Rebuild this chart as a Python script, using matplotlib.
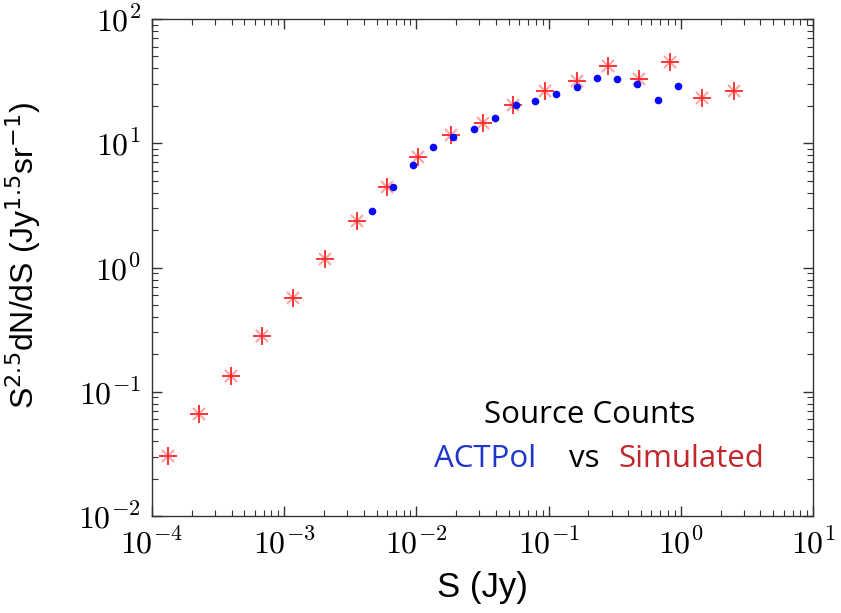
import numpy as np
import matplotlib
matplotlib.use("Agg")
import matplotlib.pyplot as plt
from matplotlib.ticker import LogLocator, FuncFormatter, NullFormatter

# Simulated source counts (flux in Jy, S^2.5 dN/dS in Jy^1.5 sr^-1)
sim_flux = [1.31e-4, 2.28e-4, 3.94e-4, 6.76e-4, 1.17e-3, 2.04e-3, 3.53e-3,
            5.96e-3, 1.03e-2, 1.815e-2, 3.17e-2, 5.41e-2, 9.4e-2, 0.163,
            0.279, 0.481, 0.828, 1.445, 2.53]
sim_counts = [0.0304, 0.0658, 0.1346, 0.282, 0.569, 1.18, 2.35,
              4.45, 7.7, 11.6, 14.5, 20.2, 26.4, 31.7,
              41.6, 33.1, 45.1, 23.0, 26.3]

# ACTPol measured source counts
act_flux = [4.63e-3, 6.62e-3, 9.5e-3, 1.328e-2, 1.9e-2, 2.74e-2, 3.95e-2,
            5.64e-2, 7.93e-2, 0.113, 0.163, 0.232, 0.331, 0.467, 0.667, 0.96]
act_counts = [2.87, 4.45, 6.71, 9.38, 11.2, 13.1, 16.1,
              20.2, 21.9, 24.9, 28.4, 33.8, 32.9, 29.8, 22.4, 29.1]

plt.rcParams["mathtext.fontset"] = "cm"

fig = plt.figure(figsize=(8.41, 6.13), dpi=100)
ax = fig.add_axes([152 / 841, 1 - 516 / 613, 661 / 841, 497 / 613])

# simulated: asterisk built from a plus and a lighter cross
ax.plot(sim_flux, sim_counts, ls="none", marker="x", ms=8, mew=1.5,
        color="#ff3a3a", alpha=0.45, zorder=3)
ax.plot(sim_flux, sim_counts, ls="none", marker="+", ms=12.5, mew=1.4,
        color="#ff2020", alpha=0.9, zorder=3)
ax.plot(act_flux, act_counts, ls="none", marker="o", ms=5.5, mew=0,
        color="#0a0aff", zorder=4)

ax.set_xscale("log")
ax.set_yscale("log")
ax.set_xlim(1e-4, 1e1)
ax.set_ylim(1e-2, 1e2)

decade_fmt = FuncFormatter(lambda v, pos: r"$10^{%d}$" % int(round(np.log10(v))))
for axis in (ax.xaxis, ax.yaxis):
    axis.set_major_locator(LogLocator(base=10, numticks=10))
    axis.set_minor_locator(LogLocator(base=10, subs=np.arange(2, 10), numticks=20))
    axis.set_major_formatter(decade_fmt)
    axis.set_minor_formatter(NullFormatter())

ax.tick_params(which="both", direction="in", top=True, right=True,
               color="#333333")
ax.tick_params(which="major", length=7, width=1.0, labelsize=23)
ax.tick_params(axis="x", which="major", pad=9)
ax.tick_params(axis="y", which="major", pad=8)
ax.tick_params(which="minor", length=4, width=0.8)
for sp in ax.spines.values():
    sp.set_color("#333333")
    sp.set_linewidth(1.0)

ax.set_xlabel("S (Jy)", family="Liberation Sans", fontsize=25, labelpad=8)
ax.set_ylabel(r"S$^{2.5}$dN/dS (Jy$^{1.5}$sr$^{-1}$)", family="Liberation Sans",
              fontsize=23)
ax.yaxis.label.set_math_fontfamily("dejavusans")
ax.yaxis.set_label_coords(-0.165, 0.525)

ax.text(590 / 841, 1 - 415 / 613, "Source Counts", transform=fig.transFigure,
        ha="center", va="center", fontsize=22.5, family="Open Sans", color="black")
ax.text(485 / 841, 1 - 459 / 613, "ACTPol", transform=fig.transFigure,
        ha="center", va="center", fontsize=22.5, family="Open Sans", color="#1f35cc")
ax.text(584 / 841, 1 - 459 / 613, "vs", transform=fig.transFigure,
        ha="center", va="center", fontsize=22.5, family="Open Sans", color="black")
ax.text(691 / 841, 1 - 459 / 613, "Simulated", transform=fig.transFigure,
        ha="center", va="center", fontsize=22.5, family="Open Sans", color="#c1272d")

fig.savefig("out.png", dpi=100)
